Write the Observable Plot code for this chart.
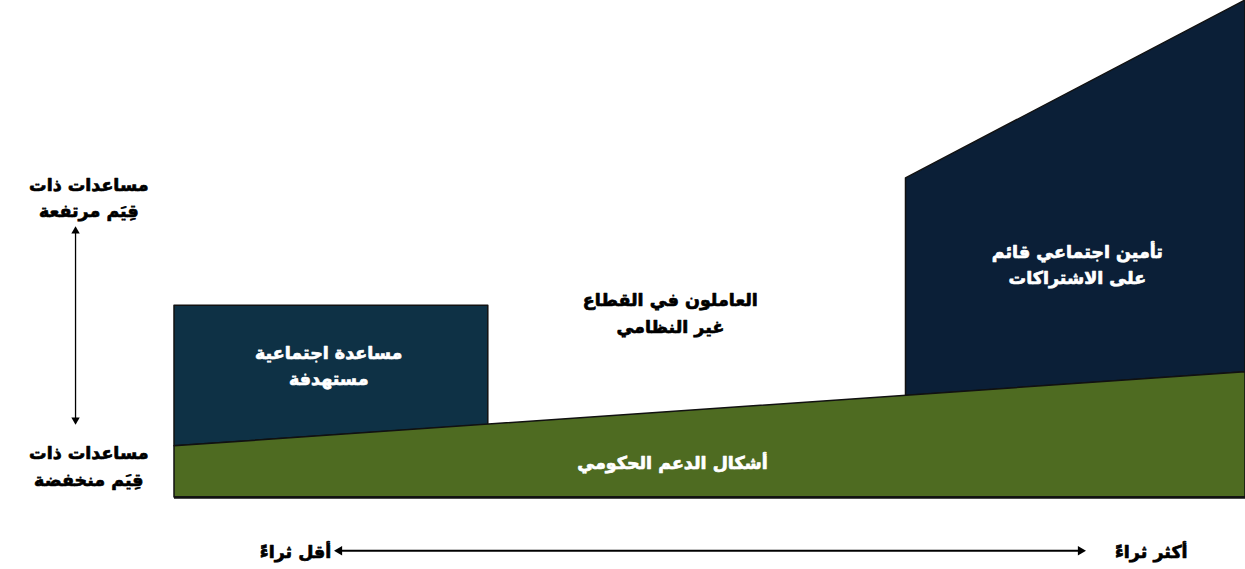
<!DOCTYPE html>
<html>
<head>
<meta charset="utf-8">
<script src="https://cdn.jsdelivr.net/npm/d3@7"></script>
<script src="https://cdn.jsdelivr.net/npm/@observablehq/plot@0.6"></script>
<style>
  html, body { margin: 0; padding: 0; background: #fff; }
  svg { display: block; }
</style>
</head>
<body>
<div id="chart"></div>
<script>
// Conceptual diagram: x = wealth (0 = less, 100 = more), y = value of assistance (0..100)
const govX = [0, 100];
const govTop = [10.3, 25.2];

const targetedX = [0, 29.3];
const targetedBottom = [10.3, 14.6];
const targetedTop = [38.6, 38.6];

const insuranceX = [68.3, 100];
const insuranceBottom = [20.4, 25.2];
const insuranceTop = [64.2, 100];

const labels = [
  {text: "مساعدات ذات\nقِيَم مرتفعة", x: -8.0, y: 60.8, color: "#000"},
  {text: "مساعدات ذات\nقِيَم منخفضة", x: -8.0, y: 6.7, color: "#000"},
  {text: "مساعدة اجتماعية\nمستهدفة", x: 14.4, y: 26.9, color: "#fff"},
  {text: "العاملون في القطاع\nغير النظامي", x: 46.3, y: 37.5, color: "#000"},
  {text: "أشكال الدعم الحكومي", x: 46.5, y: 7.5, color: "#fff"},
  {text: "تأمين اجتماعي قائم\nعلى الاشتراكات", x: 84.3, y: 47.3, color: "#fff"},
  {text: "أقل ثراءً", x: 11.3, y: -10.5, color: "#000"},
  {text: "أكثر ثراءً", x: 91.2, y: -10.5, color: "#000"}
];

// double-headed arrows: shaft + filled heads
const shafts = [
  {x1: -9.24, y1: 15.6, x2: -9.24, y2: 53.6, w: 1.3},
  {x1: 15.6, y1: -10.7, x2: 84.4, y2: -10.7, w: 2}
];
const heads = [
  {x: -9.24, y: 53.6, angle: 0, r: 4},
  {x: -9.24, y: 15.6, angle: 180, r: 4},
  {x: 15.4, y: -10.7, angle: -90, r: 4.5},
  {x: 84.6, y: -10.7, angle: 90, r: 4.5}
];

const gov = govX.map((x, i) => ({x, y1: 0, y2: govTop[i]}));
const targeted = targetedX.map((x, i) => ({x, y1: targetedBottom[i], y2: targetedTop[i]}));
const insurance = insuranceX.map((x, i) => ({x, y1: insuranceBottom[i], y2: insuranceTop[i]}));

const chart = Plot.plot({
  width: 1245,
  height: 569,
  marginLeft: 174,
  marginRight: 0,
  marginTop: 0,
  marginBottom: 72,
  x: {domain: [0, 100], axis: null},
  y: {domain: [0, 100], range: [497, 0], axis: null},
  r: {type: "identity"},
  style: {fontFamily: "'DejaVu Sans', Arial, sans-serif", background: "#fff"},
  marks: [
    Plot.areaY(targeted, {x: "x", y1: "y1", y2: "y2", fill: "#0e3145", stroke: "#111", strokeWidth: 1.5}),
    Plot.areaY(insurance, {x: "x", y1: "y1", y2: "y2", fill: "#0b1f37", stroke: "#111", strokeWidth: 1.5}),
    Plot.areaY(gov, {x: "x", y1: "y1", y2: "y2", fill: "#4e6b21", stroke: "#111", strokeWidth: 1.5}),
    Plot.ruleY([0], {x1: 0, x2: 100, stroke: "#111", strokeWidth: 2.5}),
    Plot.link(shafts, {x1: "x1", y1: "y1", x2: "x2", y2: "y2", stroke: "#000", strokeWidth: "w"}),
    Plot.dot(heads, {x: "x", y: "y", symbol: "triangle2", r: "r", rotate: "angle", fill: "#000", stroke: "none"}),
    Plot.text(labels, {x: "x", y: "y", text: "text", fill: "color", stroke: "color", strokeWidth: 0.7, paintOrder: "stroke", fontSize: 17.5, fontWeight: "bold", lineHeight: 1.5, textAnchor: "middle"})
  ]
});
document.getElementById("chart").appendChild(chart);
</script>
</body>
</html>
